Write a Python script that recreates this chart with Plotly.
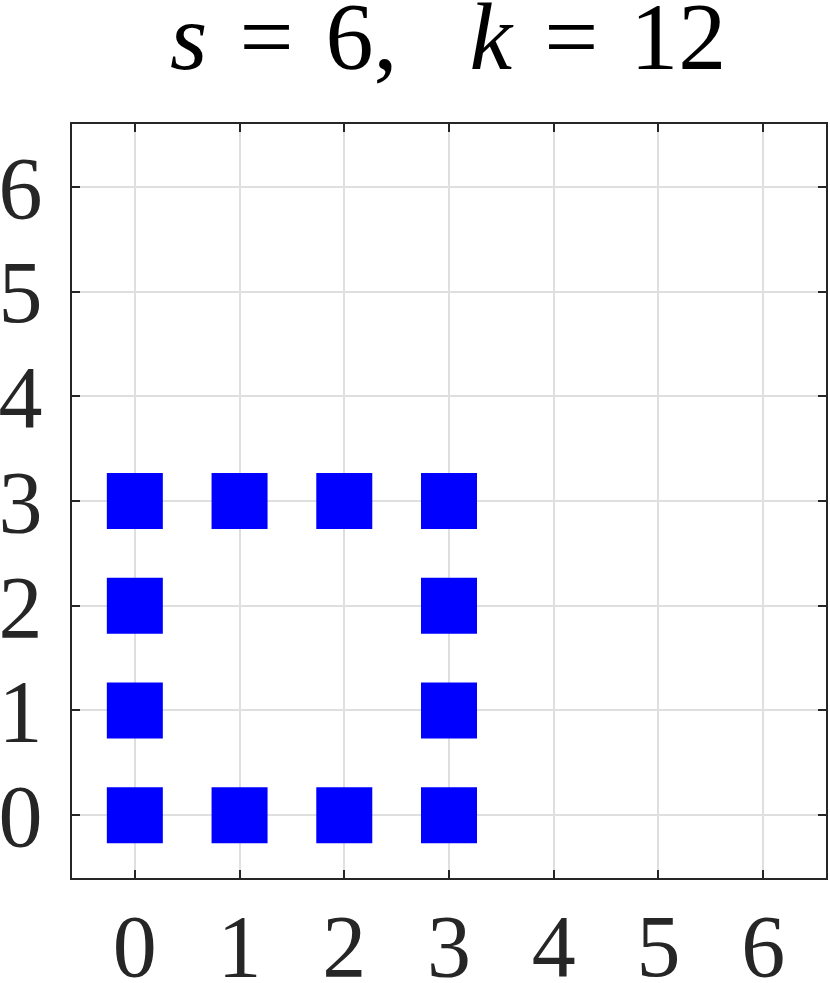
import plotly.graph_objects as go

# boundary cells of the 4x4 block (s = 6, k = 12)
x_vals = [0, 1, 2, 3, 3, 3, 3, 2, 1, 0, 0, 0]
y_vals = [0, 0, 0, 0, 1, 2, 3, 3, 3, 3, 2, 1]
tick_vals = [0, 1, 2, 3, 4, 5, 6]
title_text = "<i>s</i> \u200a= \u200a6, \u2002<i>k</i> \u200a= \u200a12"

font_family = "Liberation Serif"
axis_color = "#262626"

fig = go.Figure()

fig.add_trace(go.Scatter(
    x=x_vals,
    y=y_vals,
    mode="markers",
    marker=dict(symbol="square", size=56, color="#0000ff", line=dict(width=0)),
    showlegend=False,
    hoverinfo="skip"
))

axis_style = dict(
    range=[-0.6, 6.6],
    tickvals=tick_vals,
    ticks="inside",
    ticklen=8,
    tickwidth=2,
    tickcolor=axis_color,
    showline=True,
    linewidth=2,
    linecolor=axis_color,
    mirror="allticks",
    showgrid=True,
    gridcolor="#dfdfdf",
    gridwidth=2,
    zeroline=False,
    automargin=False,
    tickfont=dict(family=font_family, size=88, color=axis_color),
    fixedrange=True
)

fig.update_xaxes(**axis_style, ticklabelstandoff=-10)
fig.update_yaxes(**axis_style, ticklabelstandoff=10)

fig.update_layout(
    width=830,
    height=983,
    autosize=False,
    margin=dict(l=72, r=4, t=124, b=105),
    paper_bgcolor="white",
    plot_bgcolor="white",
    title=dict(
        text=title_text,
        x=0.540,
        xanchor="center",
        y=0.964,
        yanchor="middle",
        font=dict(family=font_family, size=96, color="black")
    )
)

# drop the default body margin so the figure sits flush with the window
fig.write_html(
    "out.html",
    config={"displayModeBar": False},
    post_script="document.body.style.margin = '0';"
)
